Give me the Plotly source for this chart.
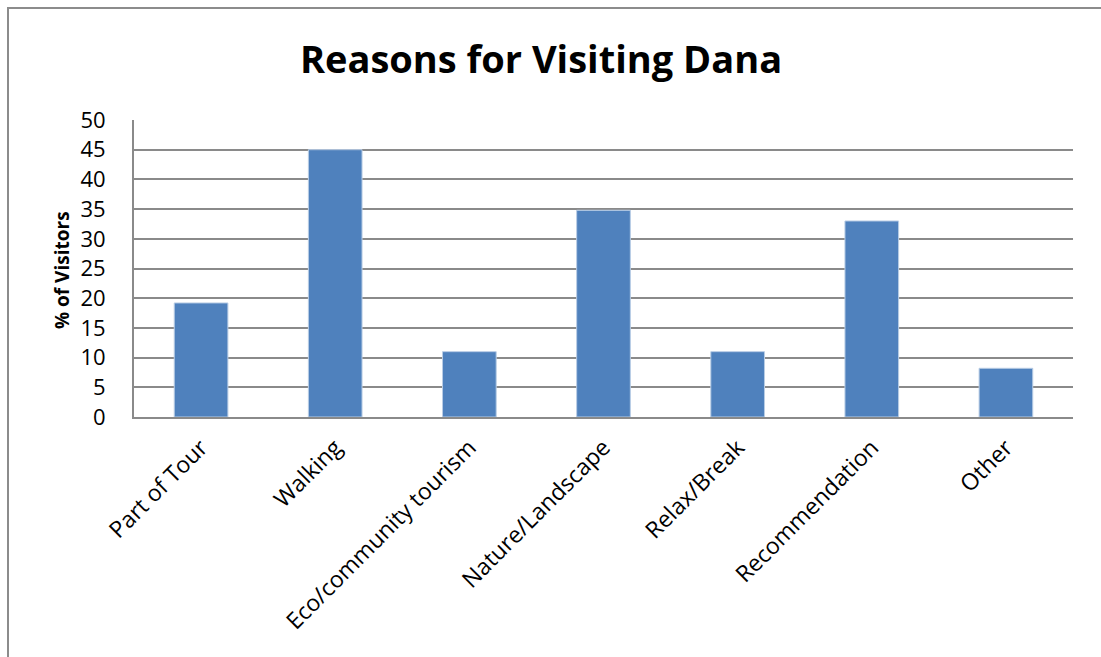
import plotly.graph_objects as go

# Survey results: share of visitors giving each reason
categories = [
    "Part of Tour",
    "Walking",
    "Eco/community tourism",
    "Nature/Landscape",
    "Relax/Break",
    "Recommendation",
    "Other",
]
percent_visitors = [19.2, 45, 11, 34.8, 11, 33, 8.2]
y_ticks = [0, 5, 10, 15, 20, 25, 30, 35, 40, 45, 50]

W, H = 1101, 657
M_L, M_R, M_T, M_B = 134, 28, 120, 240
plot_w = W - M_L - M_R
plot_h = H - M_T - M_B

def px_x(px):
    return (px - M_L) / plot_w

def px_y(py):
    return (H - M_B - py) / plot_h

FONT = "Open Sans, Liberation Sans, sans-serif"
GRID = "#8a8a8a"

fig = go.Figure(
    go.Bar(
        x=categories,
        y=percent_visitors,
        marker=dict(color="#4F81BD", line=dict(color="#B9CDE5", width=1)),
        width=0.4,
    )
)

fig.update_layout(
    width=W,
    height=H,
    margin=dict(l=M_L, r=M_R, t=M_T, b=M_B),
    paper_bgcolor="white",
    plot_bgcolor="white",
    showlegend=False,
    title=dict(
        text="<b>Reasons for Visiting Dana</b>",
        x=541 / W,
        xanchor="center",
        y=1 - 60 / H,
        yanchor="middle",
        font=dict(family=FONT, size=38, color="black"),
    ),
    xaxis=dict(
        tickangle=-45,
        tickfont=dict(family=FONT, size=23, color="black"),
        ticklabelstandoff=6,
        showline=True,
        linecolor=GRID,
        linewidth=2,
        ticks="",
        showgrid=False,
    ),
    yaxis=dict(
        range=[0, 50],
        tickvals=y_ticks,
        tickfont=dict(family=FONT, size=22, color="black"),
        ticklabelstandoff=22,
        showgrid=True,
        gridcolor=GRID,
        gridwidth=2,
        showline=True,
        linecolor=GRID,
        linewidth=2,
        zeroline=False,
        ticks="",
        ticklen=0,
    ),
    annotations=[
        dict(
            text="<b>% of Visitors</b>",
            xref="paper",
            yref="paper",
            x=px_x(62),
            y=px_y(270),
            xanchor="center",
            yanchor="middle",
            textangle=-90,
            showarrow=False,
            font=dict(family=FONT, size=19, color="black"),
        )
    ],
    shapes=[
        dict(
            type="rect",
            xref="paper",
            yref="paper",
            x0=px_x(8),
            y0=px_y(H + 20),
            x1=px_x(W + 20),
            y1=px_y(8),
            line=dict(color="#8c8c8c", width=2),
            fillcolor="rgba(0,0,0,0)",
            layer="below",
        )
    ],
)

fig.write_html("out.html")
